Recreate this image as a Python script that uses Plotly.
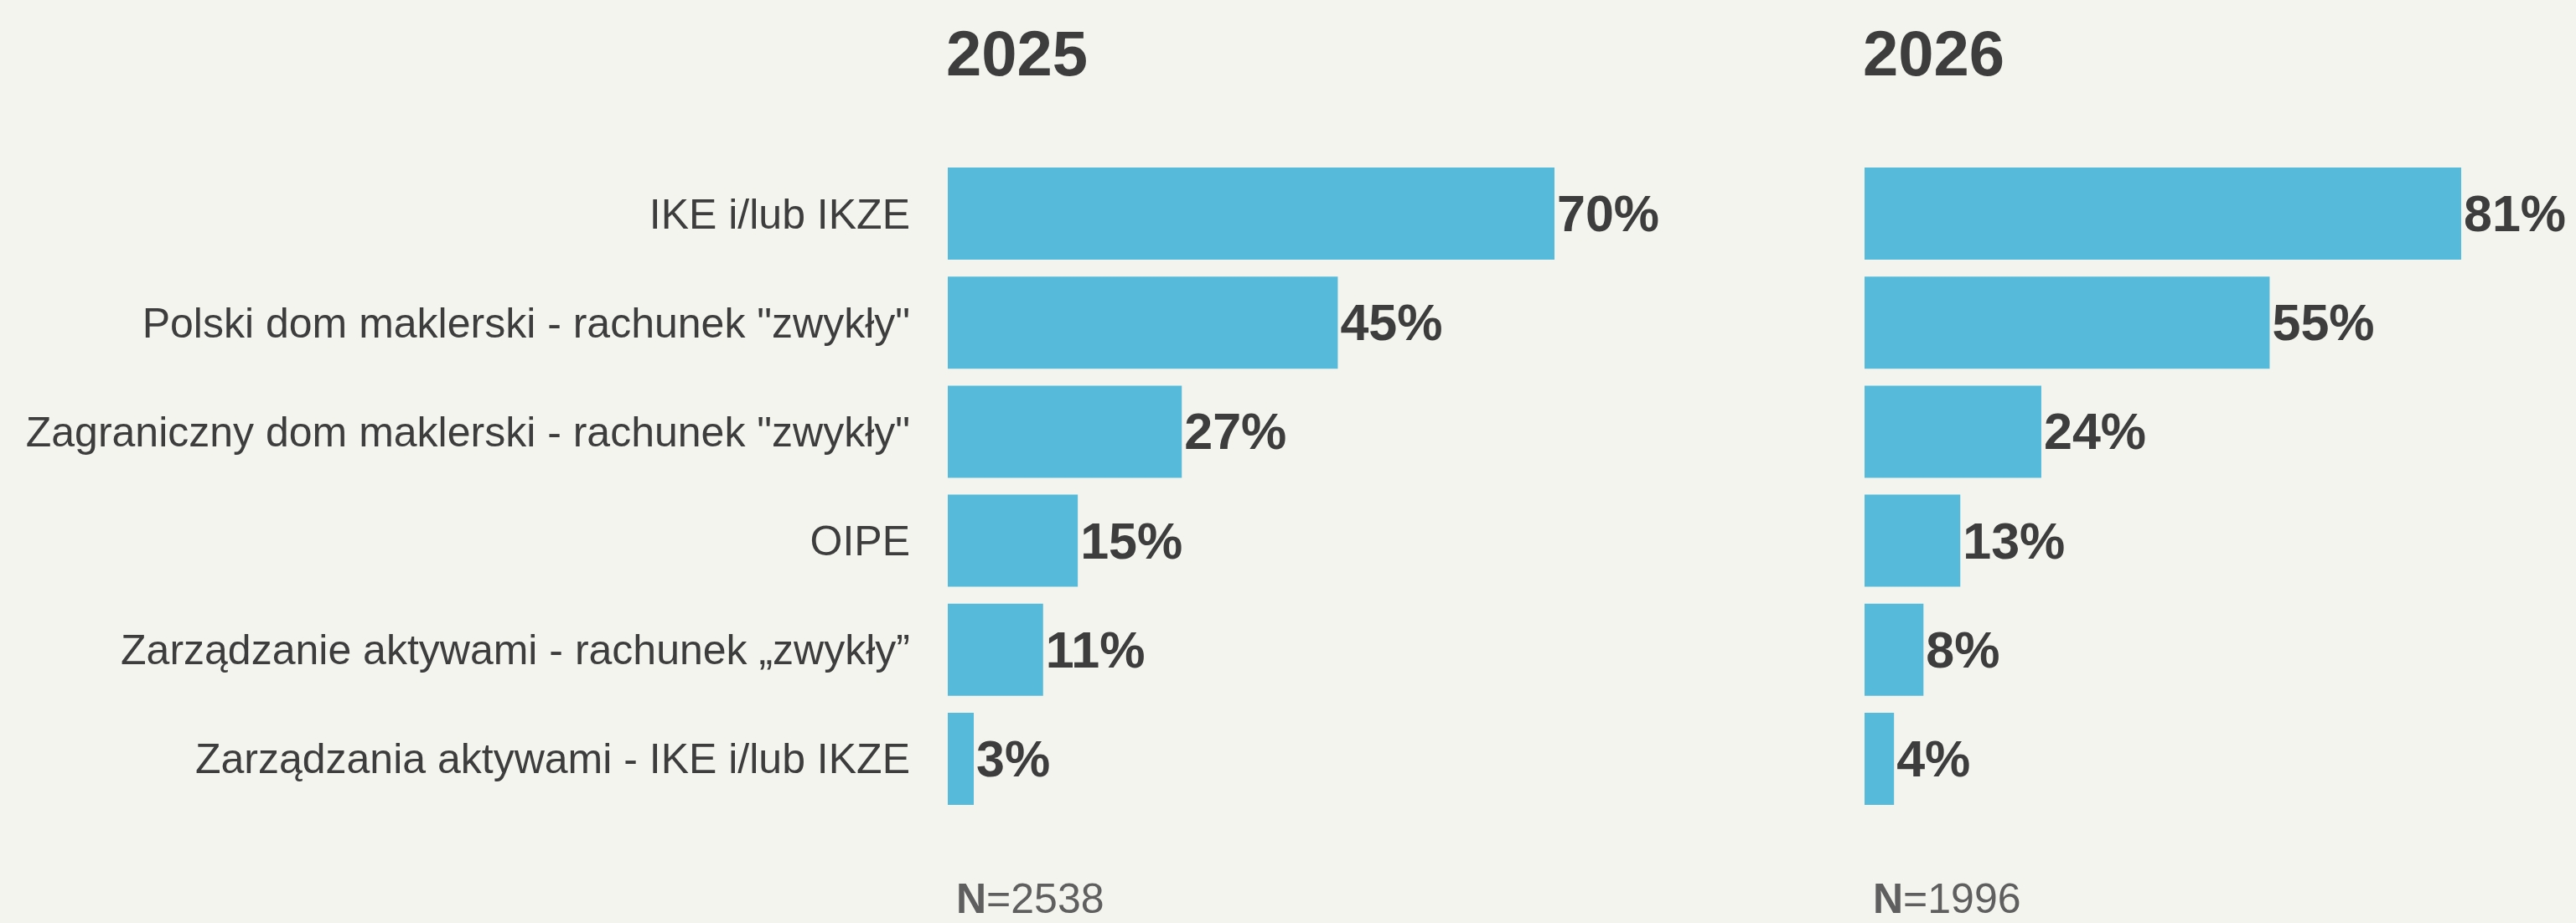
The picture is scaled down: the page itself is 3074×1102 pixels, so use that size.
import plotly.graph_objects as go

# Survey answers: which account types respondents use (share of respondents, %)
categories = [
    "IKE i/lub IKZE",
    'Polski dom maklerski - rachunek "zwykły"',
    'Zagraniczny dom maklerski - rachunek "zwykły"',
    "OIPE",
    "Zarządzanie aktywami - rachunek „zwykły”",
    "Zarządzania aktywami - IKE i/lub IKZE",
]
values_2025 = [70, 45, 27, 15, 11, 3]
values_2026 = [81, 55, 24, 13, 8, 4]
years = ["2025", "2026"]
sample_sizes = [2538, 1996]

W, H = 3074, 1102
BG = "#f4f4ee"
BAR = "#56bbdb"
INK = "#3d3d3d"
GREY = "#5f5f5f"
FONT = "Liberation Sans, Arial, sans-serif"


def fx(px):
    return px / W


def fy(py):
    return 1 - py / H


# panel geometry in pixels: left edge, right edge, pixels per percentage point
panels = [
    (1131, 2100, 10.343),
    (2225, 3074, 8.79),
]
series = [values_2025, values_2026]

fig = go.Figure()

for i, (vals, (x0, x1, ppp)) in enumerate(zip(series, panels)):
    n = "" if i == 0 else str(i + 1)
    fig.add_trace(
        go.Bar(
            x=vals,
            y=categories,
            orientation="h",
            marker=dict(color=BAR, line=dict(width=0)),
            text=[f"{v}%" for v in vals],
            textposition="outside",
            textfont=dict(family=FONT, size=61, color=INK, weight="bold"),
            constraintext="none",
            cliponaxis=False,
            xaxis="x" + n,
            yaxis="y" + n,
            showlegend=False,
            hoverinfo="skip",
        )
    )
    fig.layout["xaxis" + n] = dict(
        domain=[fx(x0), fx(x1)],
        range=[0, (x1 - x0) / ppp],
        visible=False,
        fixedrange=True,
        anchor="y" + n,
    )
    fig.layout["yaxis" + n] = dict(
        domain=[fy(971), fy(190)],
        type="category",
        categoryorder="array",
        categoryarray=categories,
        range=[len(categories) - 0.5, -0.5],
        showticklabels=(i == 0),
        showline=False,
        showgrid=False,
        zeroline=False,
        ticks="",
        ticklabelstandoff=44,
        tickfont=dict(family=FONT, size=50, color=INK),
        automargin=False,
        fixedrange=True,
        anchor="x" + n,
    )

    # panel heading (year) and sample size below the bars
    fig.add_annotation(
        x=fx(x0), y=fy(64), xref="paper", yref="paper",
        xanchor="left", yanchor="middle", xshift=-4,
        text=f"<b>{years[i]}</b>", showarrow=False,
        font=dict(family=FONT, size=76, color=INK),
    )
    fig.add_annotation(
        x=fx(x0), y=fy(1073), xref="paper", yref="paper",
        xanchor="left", yanchor="middle", xshift=8,
        text=f"<b>N</b>={sample_sizes[i]}", showarrow=False,
        font=dict(family=FONT, size=50, color=GREY),
    )

fig.update_layout(
    width=W,
    height=H,
    autosize=False,
    margin=dict(l=0, r=0, t=0, b=0),
    paper_bgcolor=BG,
    plot_bgcolor=BG,
    bargap=0.155,
)

fig.write_html("out.html", config={"displayModeBar": False})
